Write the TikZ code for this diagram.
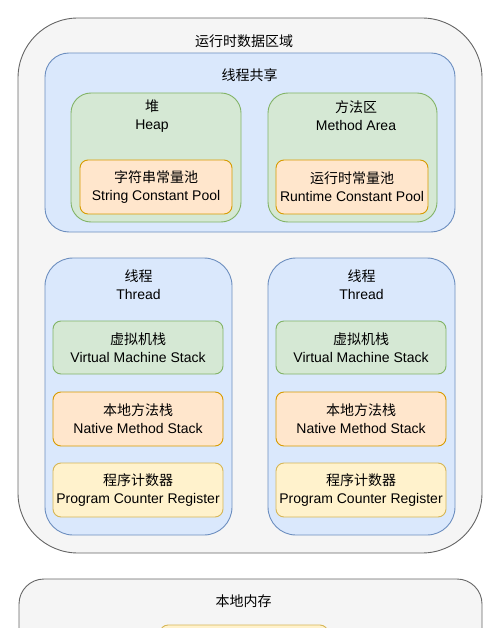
\documentclass[tikz,border=0pt]{standalone}
\usepackage{fontspec}
\setmainfont{Liberation Sans}
\newfontfamily\cjkfont{Noto Sans CJK SC}
\usetikzlibrary{positioning}

\definecolor{greyfill}{HTML}{F5F5F5}
\definecolor{greyline}{HTML}{666666}
\definecolor{bluefill}{HTML}{DAE8FC}
\definecolor{blueline}{HTML}{6C8EBF}
\definecolor{greenfill}{HTML}{D5E8D4}
\definecolor{greenline}{HTML}{82B366}
\definecolor{orangefill}{HTML}{FFE6CC}
\definecolor{orangeline}{HTML}{D79B00}
\definecolor{yellowfill}{HTML}{FFF2CC}
\definecolor{yellowline}{HTML}{D6B656}

\tikzset{
  area/.style={draw=#1line, fill=#1fill, line width=0.9pt, inner sep=0pt},
  txt/.style={align=center, font=\fontsize{14}{18}\selectfont, inner sep=0pt},
}

\begin{document}
\begin{tikzpicture}[x=1pt, y=-1pt]
    \clip (0,0) rectangle (500,628);

    % Runtime data area
    \node[area=grey, rounded corners=60pt, minimum width=464pt, minimum height=535pt] (runtime) at (250,285.5) {};
    \node[txt] (runtimetitle) at (244,41) {\cjkfont 运行时数据区域};

    % Shared by all threads
    \node[area=blue, rounded corners=24pt, minimum width=410pt, minimum height=179pt] (shared) at (250,142.5) {};
    \node[txt] (sharedtitle) at (249.5,75.5) {\cjkfont 线程共享};

    \node[area=green, rounded corners=20pt, minimum width=170pt, minimum height=129pt] (heap) at (156,157.5) {};
    \node[txt] (heaptitle) at (152,116) {{\cjkfont 堆}\\Heap};
    \node[area=orange, rounded corners=8pt, minimum width=152pt, minimum height=54pt, txt] (stringpool) at (156,187) {{\cjkfont 字符串常量池}\\String Constant Pool};

    \node[area=green, rounded corners=20pt, minimum width=169pt, minimum height=129pt] (method) at (352.5,157.5) {};
    \node[txt] (methodtitle) at (356,116) {{\cjkfont 方法区}\\Method Area};
    \node[area=orange, rounded corners=8pt, minimum width=152pt, minimum height=54pt, txt] (runtimepool) at (352,187) {{\cjkfont 运行时常量池}\\Runtime Constant Pool};

    % Per-thread areas
    \foreach \side/\cx in {left/138.5, right/361.5} {
      \node[area=blue, rounded corners=28pt, minimum width=187pt, minimum height=277pt] (thread-\side) at (\cx,396.5) {};
      \node[txt] (threadtitle-\side) at (\cx,285) {{\cjkfont 线程}\\Thread};
      \node[area=green, rounded corners=8pt, minimum width=170pt, minimum height=53pt, txt] (vmstack-\side) at (\cx-0.5,347.5) {{\cjkfont 虚拟机栈}\\Virtual Machine Stack};
      \node[area=orange, rounded corners=8pt, minimum width=170pt, minimum height=54pt, txt] (nativestack-\side) at (\cx-0.5,419) {{\cjkfont 本地方法栈}\\Native Method Stack};
      \node[area=yellow, rounded corners=8pt, minimum width=170pt, minimum height=54pt, txt] (pc-\side) at (\cx-0.5,490) {{\cjkfont 程序计数器}\\Program Counter Register};
    }

    % Native memory
    \node[area=grey, rounded corners=25pt, minimum width=463pt, minimum height=100pt] (native) at (250.5,629) {};
    \node[txt] (nativetitle) at (243.5,601.5) {\cjkfont 本地内存};
    \node[area=yellow, rounded corners=8pt, minimum width=168pt, minimum height=54pt] (metaspace) at (244,652) {};
\end{tikzpicture}
\end{document}
